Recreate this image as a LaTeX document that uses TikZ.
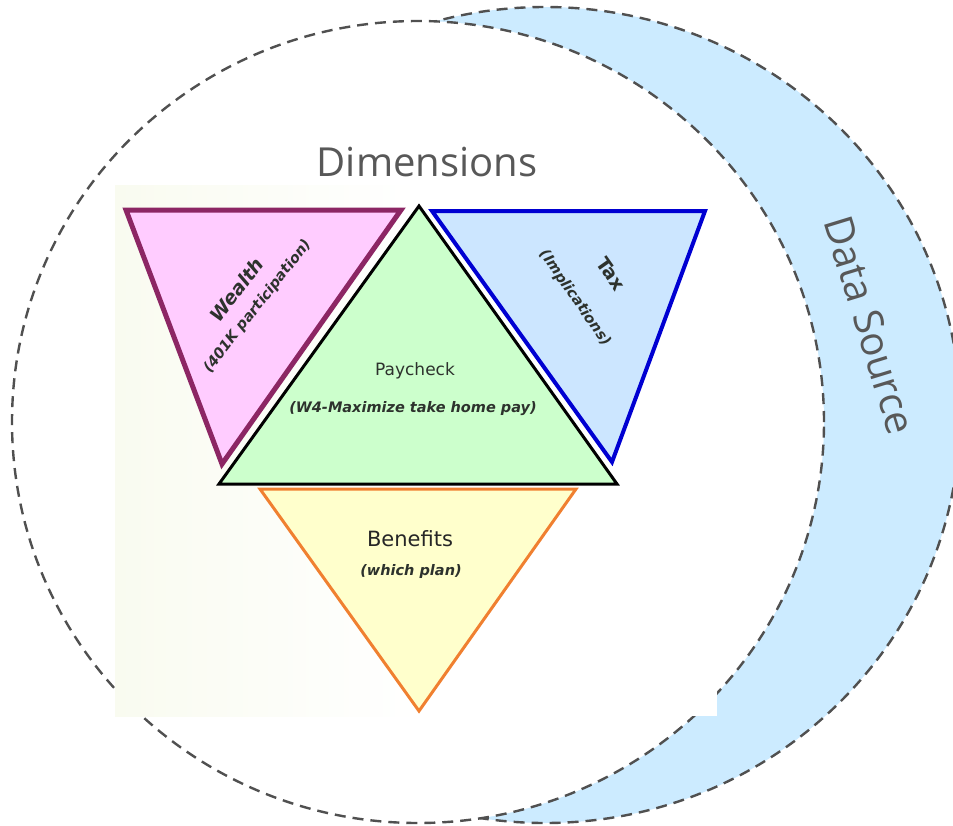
\documentclass[tikz,border=0pt]{standalone}
\usepackage{fontspec}
\setmainfont{DejaVu Sans}
\newfontfamily\headfont{Open Sans}
\definecolor{srcblue}{RGB}{204,235,255}
\definecolor{dashgray}{RGB}{80,80,80}
\definecolor{headgray}{RGB}{88,88,88}
\definecolor{wealthfill}{RGB}{255,204,255}
\definecolor{wealthline}{RGB}{140,38,100}
\definecolor{payfill}{RGB}{204,255,204}
\definecolor{taxfill}{RGB}{204,230,255}
\definecolor{taxline}{RGB}{0,0,210}
\definecolor{benfill}{RGB}{255,255,204}
\definecolor{benline}{RGB}{240,128,48}
\definecolor{textdark}{RGB}{45,50,45}
\definecolor{panelleft}{RGB}{249,251,240}
\newcommand{\facettitle}{\bfseries\fontsize{19}{24}\selectfont}
\newcommand{\facetnote}{\bfseries\itshape\fontsize{14.5}{24}\selectfont}
\begin{document}
\begin{tikzpicture}[x=1pt,y=-1pt,
  dashline/.style={draw=dashgray,line width=2.4pt,dash pattern=on 11pt off 7pt},
  facet/.style={line join=miter},
  headtext/.style={font=\headfont\fontsize{40}{44}\selectfont,text=headgray,inner sep=0pt},
  facetlabel/.style={align=center,text=textdark,inner sep=0pt},
  titletext/.style={font=\facettitle,text=textdark,inner sep=0pt},
  notetext/.style={font=\facetnote,text=textdark,inner sep=0pt}]
\useasboundingbox (0,0) rectangle (953,825);
\fill[white] (0,0) rectangle (953,825);

% data source crescent: outer ellipse, then the dimensions circle over it
\fill[srcblue] (545,415) ellipse [x radius=415pt, y radius=408pt];
\draw[dashline] (545,415) ellipse [x radius=415pt, y radius=408pt];
\fill[white] (418,422) ellipse [x radius=406pt, y radius=401pt];
\draw[dashline] (418,422) ellipse [x radius=406pt, y radius=401pt];

% panel behind the triangles
\shade[left color=panelleft,right color=white] (115,185) rectangle (420,716);
\fill[white] (420,185) rectangle (717,716);

% triangles
\coordinate (w1) at (126,210); \coordinate (w2) at (401,210); \coordinate (w3) at (222,464);
\coordinate (p1) at (419,206); \coordinate (p2) at (219,484); \coordinate (p3) at (617,484);
\coordinate (t1) at (432,211); \coordinate (t2) at (705,211); \coordinate (t3) at (612,462);
\coordinate (b1) at (260,489); \coordinate (b2) at (576,489); \coordinate (b3) at (419,711);

\filldraw[facet,fill=benfill,draw=benline,line width=3pt] (b1) -- (b2) -- (b3) -- cycle;
\filldraw[facet,fill=wealthfill,draw=wealthline,line width=5pt] (w1) -- (w2) -- (w3) -- cycle;
\filldraw[facet,fill=taxfill,draw=taxline,line width=4pt] (t1) -- (t2) -- (t3) -- cycle;
\filldraw[facet,fill=payfill,draw=black,line width=3pt] (p1) -- (p2) -- (p3) -- cycle;

% labels
\node[headtext] (dim) at (427,162) {Dimensions};
\node[headtext,rotate=-73] (src) at (870,325) {Data Source};

\node[facetlabel,font=\facetnote,rotate=52] (wealth) at (247,298)
  {{\facettitle Wealth}\\(401K participation)};

\node[titletext,rotate=-55] (tax) at (611,274) {Tax};
\node[notetext,rotate=-55] (taxsub) at (575,298) {(Implications)};

\node[font=\fontsize{17}{19}\selectfont,text=textdark,inner sep=0pt] (pay) at (415,371) {Paycheck};
\node[notetext] (paysub) at (413,409) {(W4-Maximize take home pay)};

\node[font=\fontsize{21}{23}\selectfont,text=black!85,inner sep=0pt] (ben) at (410,539) {Benefits};
\node[notetext] (bensub) at (411,571) {(which plan)};
\end{tikzpicture}
\end{document}
